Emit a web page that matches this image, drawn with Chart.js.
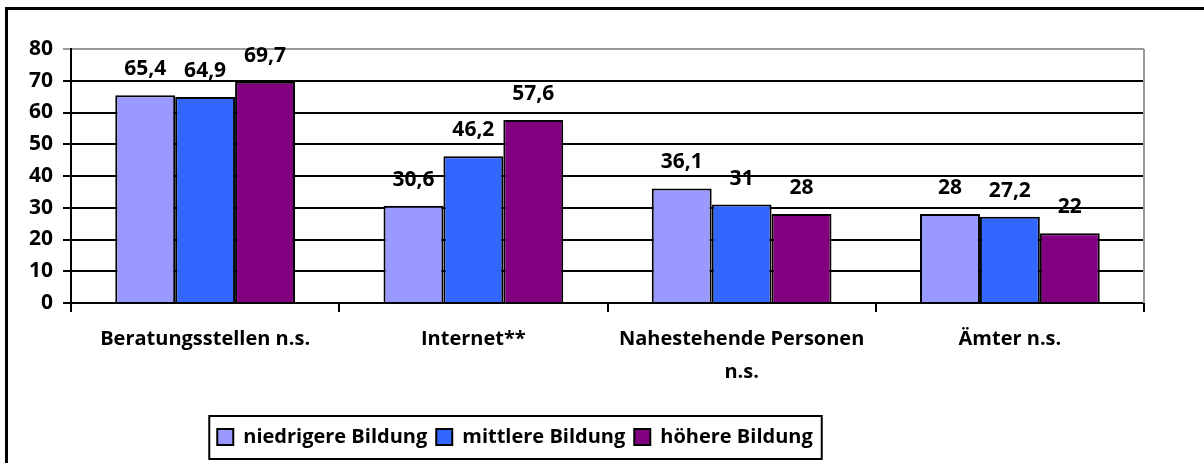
<!DOCTYPE html>
<html>
<head>
<meta charset="utf-8">
<script src="https://cdn.jsdelivr.net/npm/chart.js@4.4.1/dist/chart.umd.min.js"></script>
<style>
	html, body { margin: 0; padding: 0; background: #fff; }
	#wrap { width: 1204px; height: 463px; }
</style>
</head>
<body>
<div id="wrap"><canvas id="myChart" width="1204" height="463"></canvas></div>
<script>
// Informationsquellen nach Bildungsgrad (Angaben in %)
const categories = [
	"Beratungsstellen n.s.",
	"Internet**",
	["Nahestehende Personen", "n.s."],
	"Ämter n.s."
];
const seriesNames = ["niedrigere Bildung", "mittlere Bildung", "höhere Bildung"];
const niedrig = [65.4, 30.6, 36.1, 28];
const mittel = [64.9, 46.2, 31, 27.2];
const hoch = [69.7, 57.6, 28, 22];
const yTicks = [0, 10, 20, 30, 40, 50, 60, 70, 80];

const colors = ["#9999FF", "#3366FF", "#800080"];
const fontFamily = "'Open Sans', 'Liberation Sans', sans-serif";

// Werte über den Balken, mit Dezimalkomma
const valueLabels = {
	id: "valueLabels",
	afterDatasetsDraw(chart) {
		const ctx = chart.ctx;
		ctx.save();
		ctx.font = "bold 21px " + fontFamily;
		ctx.fillStyle = "#000";
		ctx.textAlign = "center";
		ctx.textBaseline = "middle";
		chart.data.datasets.forEach((ds, i) => {
			chart.getDatasetMeta(i).data.forEach((bar, j) => {
				const txt = String(ds.data[j]).replace(".", ",");
				ctx.fillText(txt, bar.x, bar.y - 26);
			});
		});
		ctx.restore();
	}
};

// Legende etwas nach links, wie im Original
const legendShift = {
	id: "legendShift",
	afterLayout(chart) {
		chart.legend.left -= 57;
		chart.legend.right -= 57;
	}
};

// Rahmen: äußere Linie, graue Plotkante rechts, Kasten um die Legende
const frames = {
	id: "frames",
	afterDraw(chart) {
		const ctx = chart.ctx;
		const area = chart.chartArea;
		ctx.save();
		ctx.strokeStyle = "#000";
		ctx.lineWidth = 3;
		ctx.beginPath();
		ctx.moveTo(6.5, 470);
		ctx.lineTo(6.5, 8.5);
		ctx.lineTo(1210, 8.5);
		ctx.stroke();

		ctx.strokeStyle = "#999";
		ctx.lineWidth = 2;
		ctx.beginPath();
		ctx.moveTo(area.right, area.top);
		ctx.lineTo(area.right, area.bottom);
		ctx.stroke();

		const boxes = chart.legend.legendHitBoxes;
		if (boxes && boxes.length) {
			const first = boxes[0];
			const last = boxes[boxes.length - 1];
			const mid = first.top + first.height / 2;
			const left = first.left - 8;
			const right = last.left + last.width + 9;
			ctx.strokeStyle = "#000";
			ctx.lineWidth = 2;
			ctx.strokeRect(left, mid - 21, right - left, 43);
		}
		ctx.restore();
	}
};

new Chart("myChart", {
	type: "bar",
	data: {
		labels: categories,
		datasets: [{
			label: seriesNames[0],
			data: niedrig,
			backgroundColor: colors[0]
		}, {
			label: seriesNames[1],
			data: mittel,
			backgroundColor: colors[1]
		}, {
			label: seriesNames[2],
			data: hoch,
			backgroundColor: colors[2]
		}]
	},
	options: {
		responsive: false,
		animation: false,
		devicePixelRatio: 1,
		datasets: {
			bar: {
				borderColor: "#000",
				borderWidth: 2,
				categoryPercentage: 0.67,
				barPercentage: 1
			}
		},
		layout: { padding: { left: 0, right: 60, top: 49, bottom: 6 } },
		plugins: {
			legend: {
				position: "bottom",
				labels: {
					color: "#000",
					font: { family: fontFamily, size: 20, weight: "bold" },
					boxWidth: 16,
					boxHeight: 16,
					padding: 9
				}
			},
			tooltip: { enabled: false }
		},
		scales: {
			x: {
				grid: {
					offset: true,
					drawOnChartArea: false,
					drawTicks: true,
					tickLength: 9,
					color: "#000",
					lineWidth: 2
				},
				border: { color: "#000", width: 2 },
				ticks: {
					color: "#000",
					padding: 11,
					maxRotation: 0,
					autoSkip: false,
					font: { family: fontFamily, size: 20, weight: "bold", lineHeight: "33px" }
				},
				afterFit(scale) { scale.height = 115; }
			},
			y: {
				min: yTicks[0],
				max: yTicks[yTicks.length - 1],
				afterBuildTicks(scale) {
					scale.ticks = yTicks.map(v => ({ value: v }));
				},
				grid: {
					color: ctx => ctx.tick && ctx.tick.value === 80 ? "#999" : "#000",
					lineWidth: 2,
					tickLength: 8
				},
				border: { color: "#000", width: 2 },
				ticks: {
					color: "#000",
					padding: 10,
					font: { family: fontFamily, size: 21, weight: "bold" }
				},
				afterFit(scale) { scale.width = 71; }
			}
		}
	},
	plugins: [valueLabels, legendShift, frames]
});
</script>
</body>
</html>
